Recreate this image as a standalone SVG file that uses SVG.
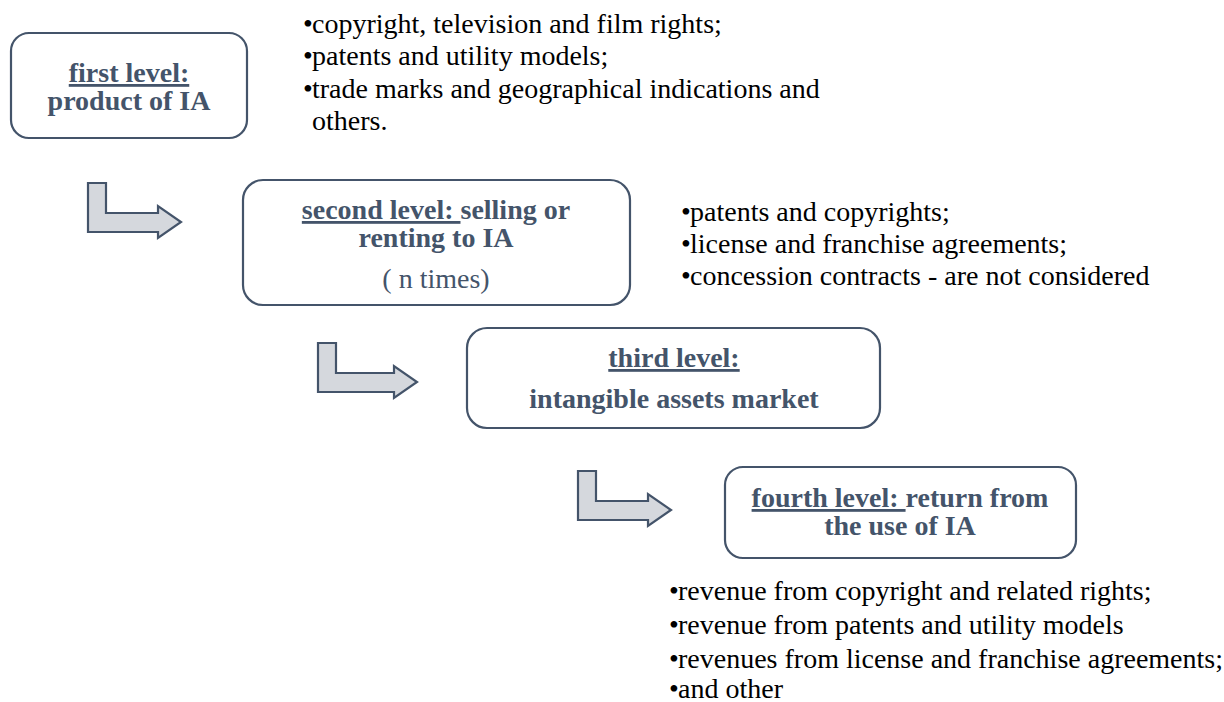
<svg xmlns="http://www.w3.org/2000/svg" width="1224" height="702" viewBox="0 0 1224 702">
<style>
.box{fill:#ffffff;stroke:#44546a;stroke-width:2.2}
.arr{fill:#d5d8dd;stroke:#44546a;stroke-width:2.2;stroke-linejoin:miter}
.t{font-family:'Liberation Serif','Tinos','Times New Roman','DejaVu Serif',serif;font-size:28px;font-weight:bold;fill:#44546a;text-anchor:middle}
.n{font-family:'Liberation Serif','Tinos','Times New Roman','DejaVu Serif',serif;font-size:28px;fill:#44546a;text-anchor:middle}
.b{font-family:'Liberation Serif','Tinos','Times New Roman','DejaVu Serif',serif;font-size:28px;fill:#000000}
.u{text-decoration:underline}
</style>
<rect width="1224" height="702" fill="#ffffff"/>
<g id="connectors">
<path class="arr" d="M88,183 H106 V213 H158 V206 L181,222 L158,238 V232 H88 Z"/>
<path class="arr" d="M318,343 H336 V373 H394 V366 L417,382 L394,398 V392 H318 Z"/>
<path class="arr" d="M578,471 H596 V501 H648 V494 L671,510 L648,526 V520 H578 Z"/>
</g>
<g id="node1">
<rect class="box" x="11" y="33" width="236" height="105" rx="18"/>
<text class="t" x="129" y="82"><tspan class="u">first level:</tspan></text>
<text class="t" x="129" y="110">product of IA</text>
</g>
<g id="node2">
<rect class="box" x="243" y="180" width="387" height="125" rx="20"/>
<text class="t" x="436" y="219" xml:space="preserve"><tspan class="u">second level: </tspan>selling or</text>
<text class="t" x="436" y="247">renting to IA</text>
<text class="n" x="436" y="288">( n times)</text>
</g>
<g id="node3">
<rect class="box" x="467" y="328" width="413" height="100" rx="20"/>
<text class="t" x="674" y="367"><tspan class="u">third level:</tspan></text>
<text class="t" x="674" y="408">intangible assets market</text>
</g>
<g id="node4">
<rect class="box" x="725" y="467" width="351" height="91" rx="18"/>
<text class="t" x="900" y="507" xml:space="preserve"><tspan class="u">fourth level: </tspan>return from</text>
<text class="t" x="900" y="535">the use of IA</text>
</g>
<g id="list1">
<text class="b" x="303" y="33">•</text><text class="b" x="312" y="33">copyright, television and film rights;</text>
<text class="b" x="303" y="65">•</text><text class="b" x="312" y="65">patents and utility models;</text>
<text class="b" x="303" y="98">•</text><text class="b" x="312" y="98">trade marks and geographical indications and</text>
<text class="b" x="312" y="130">others.</text>
</g>
<g id="list2">
<text class="b" x="681" y="221">•</text><text class="b" x="690" y="221">patents and copyrights;</text>
<text class="b" x="681" y="253">•</text><text class="b" x="690" y="253">license and franchise agreements;</text>
<text class="b" x="681" y="285">•</text><text class="b" x="690" y="285">concession contracts - are not considered</text>
</g>
<g id="list4">
<text class="b" x="669" y="600">•</text><text class="b" x="678" y="600">revenue from copyright and related rights;</text>
<text class="b" x="669" y="634">•</text><text class="b" x="678" y="634">revenue from patents and utility models</text>
<text class="b" x="669" y="668">•</text><text class="b" x="678" y="668">revenues from license and franchise agreements;</text>
<text class="b" x="669" y="698">•</text><text class="b" x="678" y="698">and other</text>
</g>
</svg>
